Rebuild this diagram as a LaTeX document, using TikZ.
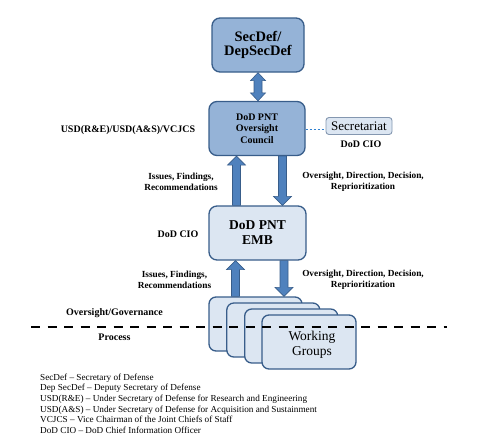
\documentclass[tikz,border=0pt]{standalone}
\usepackage{fontspec}
\setmainfont{Liberation Serif}
\usetikzlibrary{calc}
\definecolor{midblue}{HTML}{95B3D7}
\definecolor{lightblue}{HTML}{DCE6F2}
\definecolor{boxborder}{HTML}{385D8A}
\definecolor{arrowblue}{HTML}{4F81BD}
\definecolor{arrowborder}{HTML}{385D8A}
\definecolor{secborder}{HTML}{8497B0}
\definecolor{dashblue}{HTML}{2F80D0}
\newcommand\fs[2]{\fontsize{#1}{#2}\selectfont}
\newcommand\blkup[2]{\filldraw[blkarrow] let \p1=(#1),\p2=(#2) in
  ({\x1-4pt},{\y1}) -- ({\x1-4pt},{\y2-9pt}) -- ({\x1-9pt},{\y2-9pt}) -- ({\x1},{\y2})
  -- ({\x1+9pt},{\y2-9pt}) -- ({\x1+4pt},{\y2-9pt}) -- ({\x1+4pt},{\y1}) -- cycle;}
\newcommand\blkdown[2]{\filldraw[blkarrow] let \p1=(#1),\p2=(#2) in
  ({\x1-4pt},{\y1}) -- ({\x1-4pt},{\y2+9pt}) -- ({\x1-9pt},{\y2+9pt}) -- ({\x1},{\y2})
  -- ({\x1+9pt},{\y2+9pt}) -- ({\x1+4pt},{\y2+9pt}) -- ({\x1+4pt},{\y1}) -- cycle;}
\newcommand\blkboth[2]{\filldraw[blkarrow] let \p1=(#1),\p2=(#2) in
  ({\x1},{\y1}) -- ({\x1-7.5pt},{\y1+8pt}) -- ({\x1-4pt},{\y1+8pt}) -- ({\x1-4pt},{\y2-8pt})
  -- ({\x1-7.5pt},{\y2-8pt}) -- ({\x1},{\y2}) -- ({\x1+7.5pt},{\y2-8pt}) -- ({\x1+4pt},{\y2-8pt})
  -- ({\x1+4pt},{\y1+8pt}) -- ({\x1+7.5pt},{\y1+8pt}) -- cycle;}
\tikzset{
  box/.style={draw=boxborder, line width=1.3pt, rounded corners=8pt, align=center, inner sep=0pt},
  darkbox/.style={box, fill=midblue},
  lightbox/.style={box, fill=lightblue},
  wgbox/.style={lightbox, rounded corners=7pt, minimum width=93pt, minimum height=54pt},
  blkarrow/.style={fill=arrowblue, draw=arrowborder, line width=0.6pt, line join=miter},
  lbl/.style={align=center, inner sep=0pt, font=\bfseries\fs{9.3}{10.8}},
  sidelbl/.style={align=center, inner sep=0pt, font=\bfseries\fs{10}{12}},
}
\begin{document}
\begin{tikzpicture}[x=1pt,y=-1pt]
\useasboundingbox (0,0) rectangle (492,445);
% main boxes
\node[darkbox, minimum width=92pt, minimum height=54pt, font=\bfseries\fs{14.5}{14.5}] (secdef) at (258,45) {SecDef/\\DepSecDef};
\node[darkbox, minimum width=96pt, minimum height=54pt, font=\bfseries\fs{10}{11.5}] (council) at (257,128.5) {DoD PNT\\Oversight\\Council};
\node[lightbox, minimum width=97pt, minimum height=54pt, font=\bfseries\fs{13.5}{15}] (emb) at (257.5,233) {DoD PNT\\EMB};
% secretariat
\node[draw=secborder, fill=lightblue, line width=0.9pt, rounded corners=3pt, minimum width=66pt, minimum height=17pt, inner sep=0pt, font=\fs{13}{13}] (sec) at (359,126) {Secretariat};
\node[sidelbl] (seccio) at (361,144) {DoD CIO};
\draw[dashblue, line width=0.8pt, dash pattern=on 2.5pt off 1.5pt] (council.east |- 0,129) coordinate (dashl) -- (sec.west |- dashl);
% working groups
\node[wgbox] (wg1) at (255.5,324) {};
\node[wgbox] (wg2) at (273.3,330) {};
\node[wgbox] (wg3) at (291.2,336) {};
\node[wgbox, minimum width=94pt] (wg4) at (309,342) {};
\node[align=center, inner sep=0pt, font=\fs{13.5}{15}] (wgtext) at ($(wg4)+(3,2.5)$) {Working\\Groups};
% arrows
\coordinate (d0) at ($(council.north)+(1,0)$);
\blkboth{d0}{d0 |- secdef.south}
\coordinate (u1) at ($(emb.north)+(-21,0)$);
\blkup{u1}{u1 |- council.south}
\coordinate (w1) at ($(council.south)+(25.5,0)$);
\blkdown{w1}{w1 |- emb.north}
\coordinate (u2) at ($(wg1.north)+(-20,0)$);
\blkup{u2}{u2 |- emb.south}
\coordinate (w2) at ($(emb.south)+(26.5,0)$);
\blkdown{w2}{w2 |- wg1.north}
% labels
\node[sidelbl] (usd) at (128,130) {USD(R\&E)/USD(A\&S)/VCJCS};
\node[sidelbl] (embcio) at (178,234) {DoD CIO};
\node[lbl] (l1) at (181,182) {Issues, Findings,\\Recommendations};
\node[lbl] (l2) at (363,182) {Oversight, Direction, Decision,\\Reprioritization};
\node[lbl] (l3) at (174.5,280) {Issues, Findings,\\Recommendations};
\node[lbl] (l4) at (363,280) {Oversight, Direction, Decision,\\Reprioritization};
\node[sidelbl] (gov) at (114.5,313) {Oversight/Governance};
\node[sidelbl] (proc) at (114.5,337) {Process};
% dashed divider
\coordinate (dl) at (31,327);
\coordinate (dr) at (447,327);
\draw[black, line width=2pt, dash pattern=on 9pt off 7.5pt] (dl) -- (dr);
% legend
\node[anchor=north west, align=left, inner sep=0pt, font=\fs{9.2}{10.7}] (legend) at (40,373.5) {SecDef -- Secretary of Defense\\
Dep SecDef -- Deputy Secretary of Defense\\
USD(R\&E) -- Under Secretary of Defense for Research and Engineering\\
USD(A\&S) -- Under Secretary of Defense for Acquisition and Sustainment\\
VCJCS -- Vice Chairman of the Joint Chiefs of Staff\\
DoD CIO -- DoD Chief Information Officer};
\end{tikzpicture}
\end{document}
